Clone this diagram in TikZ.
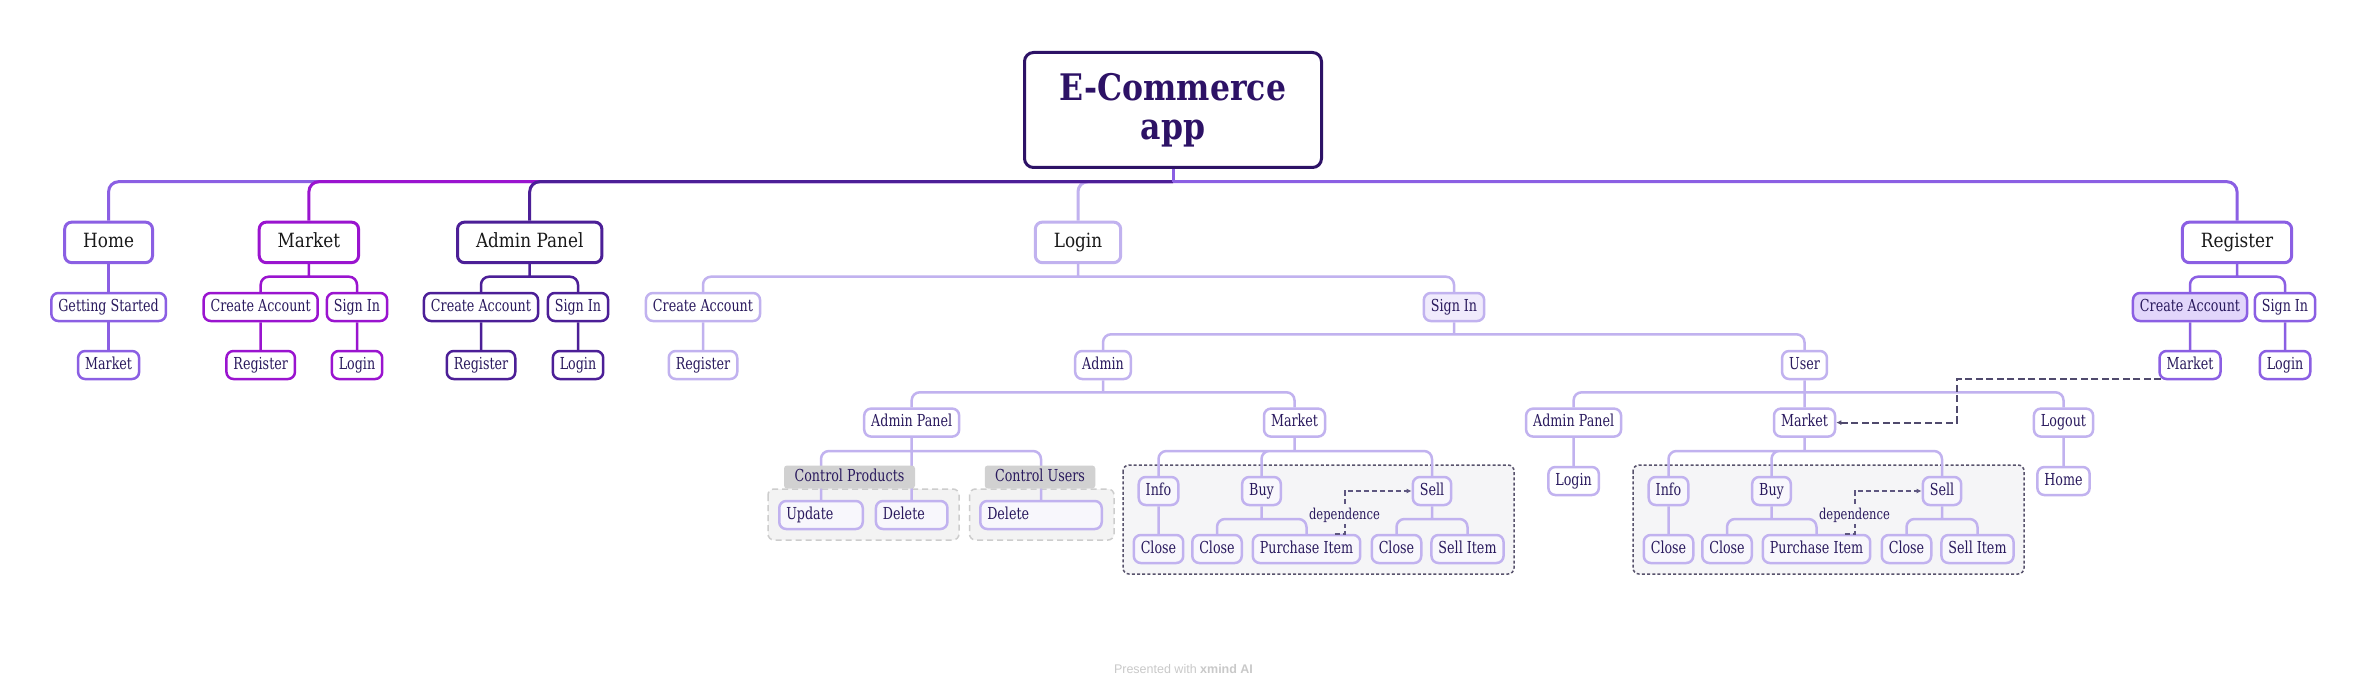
\documentclass[tikz,border=0pt]{standalone}
\usepackage{fontspec}
\setmainfont{DejaVu Serif}[FakeStretch=0.77]
\newfontfamily\headfont{DejaVu Serif}[FakeStretch=0.86]
\newfontfamily\footfont{Liberation Sans}
\usetikzlibrary{arrows.meta}
\definecolor{rootcol}{HTML}{2D1266}
\definecolor{homecol}{HTML}{8B5FE3}
\definecolor{mktcol}{HTML}{9A14CF}
\definecolor{admcol}{HTML}{4C1F97}
\definecolor{logcol}{HTML}{C1B2EF}
\definecolor{txtcol}{HTML}{2A1A5E}
\definecolor{leaffill}{HTML}{F8F7FC}
\definecolor{signfill}{HTML}{F0EBFC}
\definecolor{createfill}{HTML}{E2D6FB}
\definecolor{grpfill}{HTML}{F5F5F7}
\definecolor{grpline}{HTML}{57526C}
\definecolor{ctlfill}{HTML}{F3F3F3}
\definecolor{ctlline}{HTML}{CDCDCD}
\definecolor{taggray}{HTML}{D1D1D1}
\definecolor{depcol}{HTML}{5E5780}
\definecolor{footgray}{HTML}{C9C9C9}

\begin{document}
\begin{tikzpicture}[
    x = 1pt, y = -1pt,
    every node/.style = {rounded corners = 7pt},
    central/.style = {draw = rootcol, fill = white, line width = 3pt, align = center,
        rounded corners = 9pt, minimum width = 297pt, minimum height = 115pt, text = rootcol,
        font = \headfont\bfseries\fontsize{36.6}{38.5}\selectfont},
    topic/.style = {draw, fill = white, line width = 3pt, inner xsep = 18.5pt, inner ysep = 0pt,
        minimum height = 40.5pt, text height = 14.5pt, text depth = 4.5pt, text = black!90,
        font = \headfont\fontsize{19.6}{22}\selectfont},
    subtopic/.style = {draw, fill = white, line width = 2.5pt, inner xsep = 7pt, inner ysep = 0pt,
        minimum height = 28pt, text height = 12pt, text depth = 3.5pt, text = txtcol,
        font = \fontsize{16.5}{18}\selectfont},
    leafbox/.style = {subtopic, draw = logcol, fill = leaffill},
    wideleaf/.style = {leafbox, text width = #1, align = left},
    grouptag/.style = {fill = taggray, rounded corners = 3pt, minimum width = #1, minimum height = 23pt,
        inner sep = 0pt, text height = 12pt, text depth = 3.5pt, text = txtcol,
        font = \fontsize{16.5}{18}\selectfont},
    conn/.style = {line width = 2.5pt, rounded corners = 8pt},
    mainconn/.style = {line width = 3pt, rounded corners = 10pt},
    ctlbox/.style = {draw = ctlline, fill = ctlfill, line width = 1.5pt, dash pattern = on 6pt off 4pt,
        rounded corners = 6pt},
    grpbox/.style = {draw = grpline, fill = grpfill, line width = 1.5pt, dash pattern = on 3pt off 2.2pt,
        rounded corners = 6pt},
    depline/.style = {draw = depcol, line width = 2pt, dash pattern = on 5pt off 3pt,
        -{Latex[length = 5pt, width = 5pt]}},
    relline/.style = {draw = depcol!85!black, line width = 2pt, dash pattern = on 7pt off 3.5pt,
        -{Latex[length = 5pt, width = 5pt]}},
    deptext/.style = {fill = grpfill, rounded corners = 0pt, inner sep = 2pt, text = txtcol,
        font = \fontsize{15}{17}\selectfont}]

\fill[white] (0,0) rectangle (2367,695);
\useasboundingbox (0,0) rectangle (2367,695);

\node[central] (app) at (1173,110) {E-Commerce\\app};

\node[topic, draw = homecol] (home) at (108.6,242.4) {Home};
\node[topic, draw = mktcol] (mkt) at (308.9,242.4) {Market};
\node[topic, draw = admcol] (adm) at (529.7,242.4) {Admin Panel};
\node[topic, draw = logcol] (login) at (1078,242.4) {Login};
\node[topic, draw = homecol] (reg) at (2237,242.4) {Register};

\node[subtopic, draw = homecol] (start) at (108.6,307) {Getting Started};
\node[subtopic, draw = homecol] (hmkt) at (108.6,365) {Market};
\node[subtopic, draw = mktcol] (mcreate) at (260.7,307) {Create Account};
\node[subtopic, draw = mktcol] (msign) at (357,307) {Sign In};
\node[subtopic, draw = mktcol] (mreg) at (260.7,365) {Register};
\node[subtopic, draw = mktcol] (mlogin) at (357,365) {Login};
\node[subtopic, draw = admcol] (acreate) at (481,307) {Create Account};
\node[subtopic, draw = admcol] (asign) at (578,307) {Sign In};
\node[subtopic, draw = admcol] (areg) at (481,365) {Register};
\node[subtopic, draw = admcol] (alogin) at (578,365) {Login};
\node[subtopic, draw = logcol] (lcreate) at (703,307) {Create Account};
\node[subtopic, draw = logcol, fill = signfill] (lsign) at (1454,307) {Sign In};
\node[subtopic, draw = logcol] (lreg) at (703,365) {Register};
\node[subtopic, draw = logcol] (admin) at (1103,365) {Admin};
\node[subtopic, draw = logcol] (user) at (1804.5,365) {User};
\node[subtopic, draw = homecol, fill = createfill] (rcreate) at (2190,307) {Create Account};
\node[subtopic, draw = homecol] (rsign) at (2285,307) {Sign In};
\node[subtopic, draw = homecol] (rmkt) at (2190,365) {Market};
\node[subtopic, draw = homecol] (rlogin) at (2285,365) {Login};

\node[subtopic, draw = logcol] (apanel) at (911.7,422.6) {Admin Panel};
\node[subtopic, draw = logcol] (ma) at (1294.5,422.6) {Market};
\node[subtopic, draw = logcol] (upanel) at (1573.6,422.6) {Admin Panel};
\node[subtopic, draw = logcol] (mu) at (1804.5,422.6) {Market};
\node[subtopic, draw = logcol] (logout) at (2063.5,422.6) {Logout};
\node[subtopic, draw = logcol] (ulogin) at (1573.6,481) {Login};
\node[subtopic, draw = logcol] (uhome) at (2063.5,481) {Home};

\draw[ctlbox] (768,489) rectangle (959,540);
\draw[ctlbox] (969.5,489) rectangle (1114,540);
\node[wideleaf = 69.5pt] (update) at (821,515) {Update};
\node[wideleaf = 57.5pt] (delprod) at (911.7,515) {Delete};
\node[wideleaf = 107.5pt] (deluser) at (1041,515) {Delete};

\coordinate (b1) at (1173,181.7);
\draw[mainconn, logcol] (login.north) |- (b1);
\draw[mainconn, homecol] (home.north) |- (b1);
\draw[mainconn, mktcol] (mkt.north) |- (b1);
\draw[mainconn, admcol] (adm.north) |- (b1);
\draw[mainconn, homecol] (reg.north) |- (b1);
\draw[mainconn, homecol] (app.south) -- (b1);

\coordinate (bm) at (308.9,276.7);
\coordinate (ba) at (529.7,276.7);
\coordinate (bl) at (1078,276.7);
\coordinate (br) at (2237,276.7);
\coordinate (bs) at (1454,334.3);
\coordinate (bad) at (1103,392.3);
\coordinate (bu) at (1804.5,392.3);
\coordinate (bp) at (911.7,451);
\draw[conn, homecol] (home.south) -- (start.north) (start.south) -- (hmkt.north);
\draw[conn, mktcol] (mkt.south) -- (bm) (mcreate.north) |- (bm) (msign.north) |- (bm)
    (mcreate.south) -- (mreg.north) (msign.south) -- (mlogin.north);
\draw[conn, admcol] (adm.south) -- (ba) (acreate.north) |- (ba) (asign.north) |- (ba)
    (acreate.south) -- (areg.north) (asign.south) -- (alogin.north);
\draw[conn, logcol] (login.south) -- (bl) (lcreate.north) |- (bl) (lsign.north) |- (bl)
    (lcreate.south) -- (lreg.north);
\draw[conn, logcol] (lsign.south) -- (bs) (admin.north) |- (bs) (user.north) |- (bs);
\draw[conn, logcol] (admin.south) -- (bad) (apanel.north) |- (bad) (ma.north) |- (bad);
\draw[conn, logcol] (user.south) -- (bu) (upanel.north) |- (bu) (mu.north) -- (bu) (logout.north) |- (bu)
    (upanel.south) -- (ulogin.north) (logout.south) -- (uhome.north);
\draw[conn, logcol] (apanel.south) -- (bp) (update.north) |- (bp) (delprod.north) -- (bp) (deluser.north) |- (bp);
\draw[conn, homecol] (reg.south) -- (br) (rcreate.north) |- (br) (rsign.north) |- (br)
    (rcreate.south) -- (rmkt.north) (rsign.south) -- (rlogin.north);

\foreach \p/\mx in {a/1294.5, u/1804.5} {
  \draw[grpbox] ({\mx-171.5},465) rectangle ({\mx+219.5},574);
  \node[leafbox] (info\p) at ({\mx-136},491) {Info};
  \node[leafbox] (buy\p) at ({\mx-33},491) {Buy};
  \node[leafbox] (sell\p) at ({\mx+137.5},491) {Sell};
  \node[leafbox] (iclose\p) at ({\mx-136},549) {Close};
  \node[leafbox] (bclose\p) at ({\mx-77.5},549) {Close};
  \node[leafbox] (buyitem\p) at ({\mx+12},549) {Purchase Item};
  \node[leafbox] (sclose\p) at ({\mx+102},549) {Close};
  \node[leafbox] (sellitem\p) at ({\mx+173},549) {Sell Item};
  \coordinate (bk\p) at (\mx,451);
  \coordinate (bb\p) at ({\mx-33},519);
  \coordinate (bc\p) at ({\mx+137.5},519);
  \draw[conn, logcol] (m\p.south) -- (bk\p) (info\p.north) |- (bk\p) (buy\p.north) |- (bk\p) (sell\p.north) |- (bk\p)
      (info\p.south) -- (iclose\p.north)
      (buy\p.south) -- (bb\p) (bclose\p.north) |- (bb\p) (buyitem\p.north) |- (bb\p)
      (sell\p.south) -- (bc\p) (sclose\p.north) |- (bc\p) (sellitem\p.north) |- (bc\p);
  \draw[depline] ([xshift = 28pt]buyitem\p.north) -- ++(10,0) |- (sell\p.west);
  \node[deptext] (dep\p) at ({\mx+50},515) {dependence};
}

\node[grouptag = 131pt] (ctlprod) at (849.5,477) {Control Products};
\node[grouptag = 110.5pt] (ctluser) at (1040,477) {Control Users};

\draw[relline] ([xshift = 3pt, yshift = 1pt]rmkt.south west) -- ++(-204.5,0) |- (mu.east);

\node[font = \footfont\fontsize{12.5}{14}\selectfont, text = footgray] (credit) at (1183.5,668.7)
    {Presented with \textbf{xmind AI}};
\end{tikzpicture}
\end{document}
